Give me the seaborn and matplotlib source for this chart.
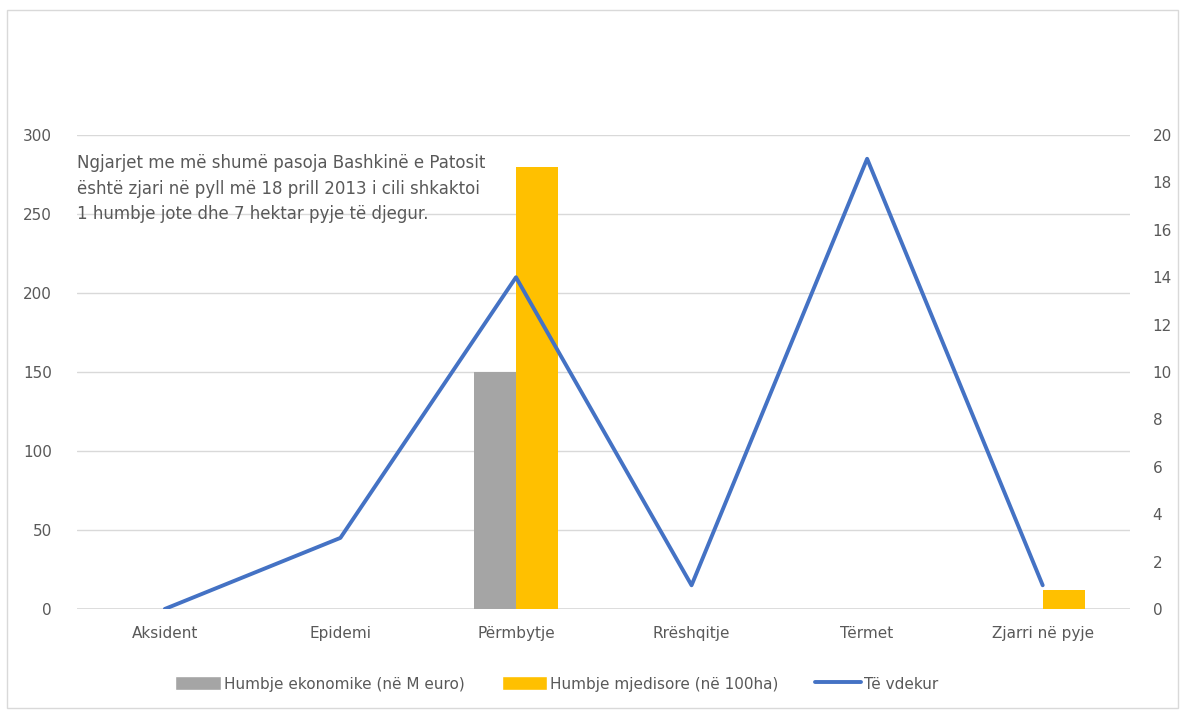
import numpy as np
import pandas as pd
import matplotlib
matplotlib.use('Agg')
import matplotlib.pyplot as plt
import seaborn as sns
from matplotlib.patches import Patch, Rectangle
from matplotlib.lines import Line2D

categories = ['Aksident', 'Epidemi', 'Përmbytje', 'Rrëshqitje', 'Tërmet', 'Zjarri në pyje']
econ_loss = [0, 0, 150, 0, 0, 0]          # Humbje ekonomike (në M euro)
env_loss = [0, 0, 280, 0, 0, 12]          # Humbje mjedisore (në 100ha)
deaths = [0, 3, 14, 1, 19, 1]             # Të vdekur

series_names = ['Humbje ekonomike (në M euro)', 'Humbje mjedisore (në 100ha)']
line_name = 'Të vdekur'
note = ('Ngjarjet me më shumë pasoja Bashkinë e Patosit\n'
        'është zjari në pyll më 18 prill 2013 i cili shkaktoi\n'
        '1 humbje jote dhe 7 hektar pyje të djegur.')

bar_colors = ['#A5A5A5', '#FFC000']
line_color = '#4472C4'
text_color = '#595959'

sns.set_theme(style='white')
plt.rcParams['font.family'] = ['DejaVu Sans']

df = pd.DataFrame({
    'cat': categories * 2,
    'value': econ_loss + env_loss,
    'series': [series_names[0]] * len(categories) + [series_names[1]] * len(categories),
})

fig = plt.figure(figsize=(11.85, 7.11), dpi=100)
ax = fig.add_axes([0.065, 0.1435, 0.889, 0.6665])

sns.barplot(data=df, x='cat', y='value', hue='series', order=categories,
            hue_order=series_names, palette=bar_colors, width=0.48,
            saturation=1, linewidth=0, ax=ax, legend=False)

ax.set_ylim(0, 300)
ax.set_yticks(np.arange(0, 301, 50))
ax.set_xlim(-0.5, len(categories) - 0.5)
ax.yaxis.grid(True, color='#D9D9D9', linewidth=1)
ax.set_axisbelow(True)
for s in ax.spines.values():
    s.set_visible(False)
ax.axhline(0, color='#D9D9D9', linewidth=1.2, zorder=0)
ax.set_xlabel('')
ax.set_ylabel('')
ax.tick_params(axis='both', length=0, labelsize=11, colors=text_color)
ax.tick_params(axis='x', pad=12)
ax.tick_params(axis='y', pad=18)

ax2 = ax.twinx()
sns.lineplot(x=np.arange(len(categories)), y=deaths, color=line_color,
             linewidth=2.8, ax=ax2)
ax2.set_ylim(0, 20)
ax2.set_yticks(np.arange(0, 21, 2))
ax2.set_xlim(-0.5, len(categories) - 0.5)
for s in ax2.spines.values():
    s.set_visible(False)
ax2.tick_params(axis='y', length=0, labelsize=11, colors=text_color, pad=16)
ax2.grid(False)

ax.text(0.0, 0.96, note, transform=ax.transAxes, fontsize=12,
        color=text_color, va='top', ha='left', linespacing=1.55)

handles = [Patch(facecolor=bar_colors[0], label=series_names[0]),
           Patch(facecolor=bar_colors[1], label=series_names[1]),
           Line2D([0], [0], color=line_color, linewidth=2.8, label=line_name)]
leg = fig.legend(handles=handles, loc='center', bbox_to_anchor=(0.47, 0.038),
                 ncol=3, frameon=False, fontsize=11, columnspacing=2.4,
                 handlelength=3.0, handleheight=1.0, handletextpad=0.2)
for t in leg.get_texts():
    t.set_color(text_color)

fig.patches.append(Rectangle((0.006, 0.004), 0.988, 0.982, transform=fig.transFigure,
                             fill=False, edgecolor='#D9D9D9', linewidth=1))

fig.savefig('out.png', dpi=100)
